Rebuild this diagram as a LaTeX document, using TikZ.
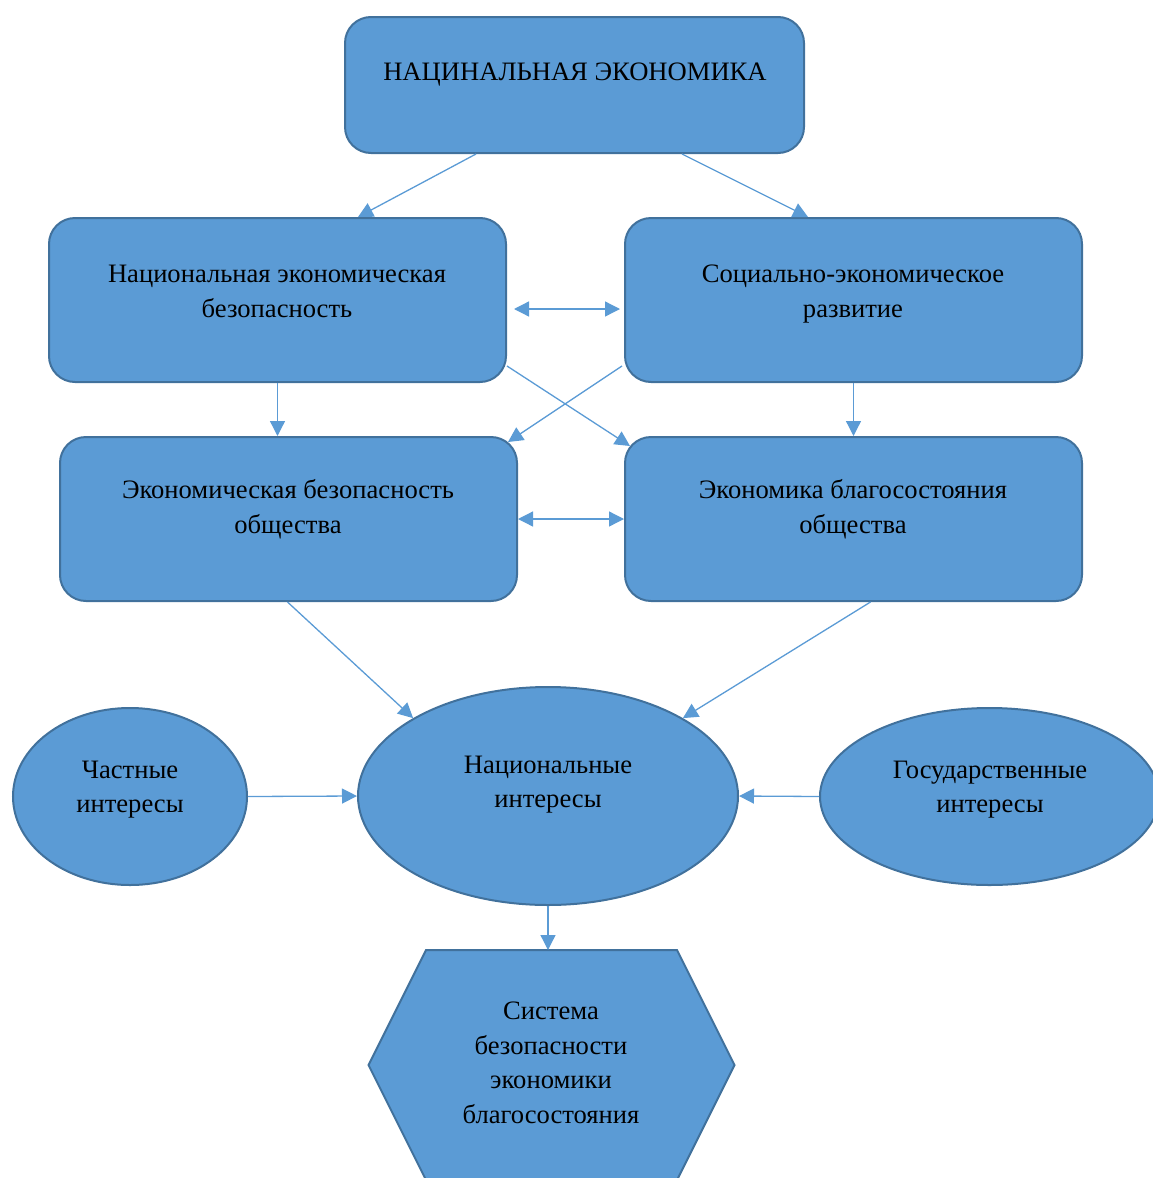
\documentclass[tikz,border=0pt]{standalone}
\usepackage{fontspec}
\setmainfont{Liberation Serif}
\usepackage{xcolor}
\usepackage{tikz}
\usetikzlibrary{arrows.meta,shapes.geometric}
\definecolor{fillblue}{HTML}{5B9BD5}
\definecolor{lineblue}{HTML}{41719C}

\begin{document}
\begin{tikzpicture}[x=1pt,y=-1pt,
  box/.style={draw=lineblue,line width=2pt,fill=fillblue,rounded corners=26pt,minimum width=457pt,minimum height=164pt,inner sep=0pt},
  oval/.style={draw=lineblue,line width=2pt,fill=fillblue,ellipse,inner sep=0pt},
  txt/.style={align=center,font=\fontsize{26.6pt}{34.5pt}\selectfont,inner sep=0pt,
    execute at begin node=\strut,execute at end node=\strut},
  link/.style={draw=fillblue,line width=1.3pt,-{Triangle[length=15pt,width=15pt]}},
  both/.style={link,{Triangle[length=15pt,width=15pt]}-{Triangle[length=15pt,width=15pt]}}]
\useasboundingbox (0,0) rectangle (1152,1178);

% boxes
\node[box,minimum width=459pt,minimum height=136pt] (nat) at (574.5,85) {};
\node[box] (neb) at (277.5,300) {};
\node[box] (sed) at (853.5,300) {};
\node[box] (ebo) at (288.5,519) {};
\node[box] (ebl) at (853.5,519) {};

% ovals
\node[oval,minimum width=380pt,minimum height=218pt] (ni) at (548,796) {};
\node[oval,minimum width=234pt,minimum height=177pt] (chi) at (130,796.5) {};
\node[oval,minimum width=339pt,minimum height=177pt] (gos) at (989.5,796.5) {};

% hexagon
\draw[draw=lineblue,line width=2pt,fill=fillblue] (426,950) -- (677,950) -- (734.5,1065) -- (677,1180) -- (426,1180) -- (368.5,1065) -- cycle;
\coordinate (sys-top) at (548,950);

% texts
\node[txt] (nat-t) at (575,74) {НАЦИНАЛЬНАЯ ЭКОНОМИКА};
\node[txt] (neb-t) at (277,296.5) {Национальная экономическая\\безопасность};
\node[txt] (sed-t) at (853,296.5) {Социально-экономическое\\развитие};
\node[txt] (ebo-t) at (288,511.5) {Экономическая безопасность\\общества};
\node[txt] (ebl-t) at (853,511.5) {Экономика благосостояния\\общества};
\node[txt] (ni-t) at (548,787) {Национальные\\интересы};
\node[txt] (chi-t) at (130,792) {Частные\\интересы};
\node[txt] (gos-t) at (990,792) {Государственные\\интересы};
\node[txt] (sys-t) at (551,1068) {Система\\безопасности\\экономики\\благосостояния};

% connectors
\draw[link] ([xshift=132pt]nat.south west) -- ([xshift=310pt]neb.north west);
\draw[link] ([xshift=338pt]nat.south west) -- ([xshift=184pt]sed.north west);
\draw[both] ([shift={(7,9)}]neb.east) -- ([shift={(-4,9)}]sed.west);
\draw[link] (neb.south) -- (neb.south |- ebo.north);
\draw[link] (sed.south) -- (ebl.north);
\draw[link] ([shift={(0,66)}]neb.east) -- ([shift={(6,10)}]ebl.north west);
\draw[link] ([shift={(-2,66)}]sed.west) -- ([shift={(-10,6)}]ebo.north east);
\draw[both] (ebo.east) -- (ebl.west);
\draw[link] ([xshift=-1pt]ebo.south) -- (ni.150);
\draw[link] ([xshift=17pt]ebl.south) -- (ni.30);
\draw[link] (chi.east) -- (ni.west);
\draw[link] (gos.west) -- (ni.east);
\draw[link] (ni.south) -- (sys-top);
\end{tikzpicture}
\end{document}
